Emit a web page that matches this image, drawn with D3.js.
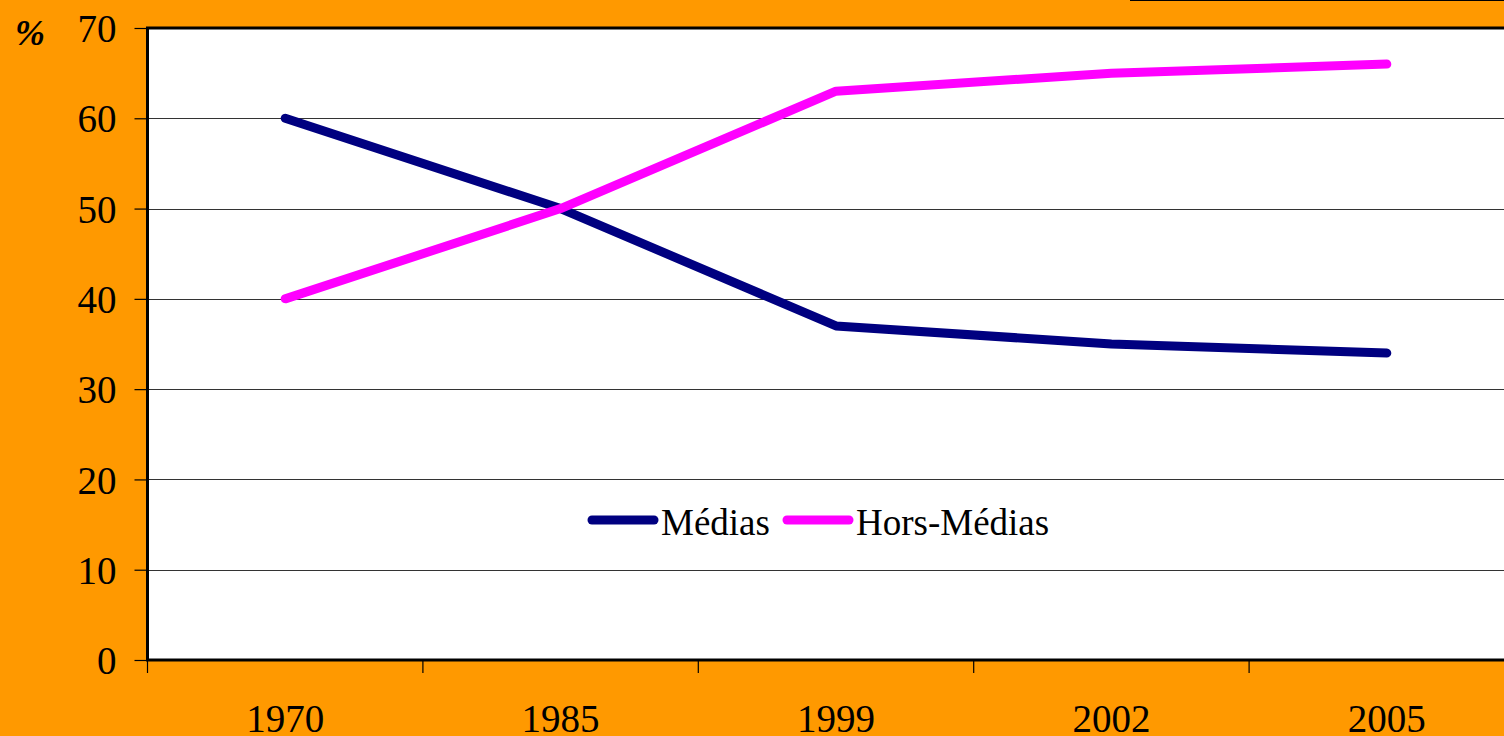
<!DOCTYPE html>
<html>
<head>
<meta charset="utf-8">
<script src="https://cdn.jsdelivr.net/npm/d3@7"></script>
<style>
  body { margin: 0; background: #FF9900; }
  svg { display: block; }
  svg text { font-family: "Liberation Serif", "Times New Roman", Tinos, "DejaVu Serif", serif; }
</style>
</head>
<body>
<svg id="chart" width="1504" height="736"></svg>
<script>
const years = ['1970', '1985', '1999', '2002', '2005'];
const medias = [60, 50, 37, 35, 34];
const horsMedias = [40, 50, 63, 65, 66];
const yTicks = [0, 10, 20, 30, 40, 50, 60, 70];

const series = [
  { name: 'Médias', values: medias, color: '#000080' },
  { name: 'Hors-Médias', values: horsMedias, color: '#FF00FF' },
];

const svg = d3.select('#chart');

const plotLeft = 147.5, plotTop = 28, plotBottom = 660;
const band = 275.4;
const plotRight = plotLeft + band * years.length;

const x = d3.scaleBand().domain(years).range([plotLeft, plotRight]);
const y = d3.scaleLinear().domain([0, 70]).range([plotBottom, plotTop]);

svg.append('rect')
  .attr('width', 1504).attr('height', 736)
  .attr('fill', '#FF9900');

// plot area
svg.append('rect')
  .attr('x', plotLeft).attr('y', plotTop)
  .attr('width', plotRight - plotLeft).attr('height', plotBottom - plotTop)
  .attr('fill', '#fff');

// thin line at the top edge
svg.append('line')
  .attr('x1', 1130).attr('x2', 1504)
  .attr('y1', 0.5).attr('y2', 0.5)
  .attr('stroke', '#000').attr('stroke-width', 1.2);

// gridlines
svg.append('g')
  .selectAll('line')
  .data(yTicks.filter(d => d > 0 && d < 70))
  .join('line')
  .attr('x1', plotLeft).attr('x2', plotRight)
  .attr('y1', d => Math.round(y(d)) + 0.5).attr('y2', d => Math.round(y(d)) + 0.5)
  .attr('stroke', '#333').attr('stroke-width', 1);

// y axis
const yAxis = svg.append('g')
  .attr('transform', `translate(${plotLeft},0)`)
  .call(d3.axisLeft(y).tickValues(yTicks).tickSize(13).tickPadding(18));
yAxis.attr('font-family', null);
yAxis.select('.domain').remove();
yAxis.selectAll('.tick line').attr('stroke', '#000').attr('stroke-width', 1.2);
yAxis.selectAll('.tick text')
  .attr('font-size', 39).attr('fill', '#000')
  .attr('dy', '0.35em');

// x axis ticks at band boundaries
const xBounds = years.map(d => x(d)).concat([plotRight]);
svg.append('g')
  .selectAll('line')
  .data(xBounds)
  .join('line')
  .attr('x1', d => d).attr('x2', d => d)
  .attr('y1', plotBottom).attr('y2', plotBottom + 13)
  .attr('stroke', '#000').attr('stroke-width', 1.2);

svg.append('g')
  .selectAll('text')
  .data(years)
  .join('text')
  .attr('x', d => x(d) + x.bandwidth() / 2)
  .attr('y', 732)
  .attr('text-anchor', 'middle')
  .attr('font-size', 39)
  .text(d => d);

// plot border
svg.append('rect')
  .attr('x', plotLeft).attr('y', plotTop)
  .attr('width', plotRight - plotLeft).attr('height', plotBottom - plotTop)
  .attr('fill', 'none').attr('stroke', '#000').attr('stroke-width', 3);

// % label
svg.append('text')
  .attr('x', 30).attr('y', 45)
  .attr('text-anchor', 'middle')
  .attr('font-size', 36)
  .attr('font-weight', 'bold').attr('font-style', 'italic')
  .text('%');

// lines
const line = d3.line()
  .x((d, i) => x(years[i]) + x.bandwidth() / 2)
  .y(d => y(d));

svg.append('g')
  .selectAll('path')
  .data(series)
  .join('path')
  .attr('d', d => line(d.values))
  .attr('fill', 'none')
  .attr('stroke', d => d.color)
  .attr('stroke-width', 9)
  .attr('stroke-linecap', 'round')
  .attr('stroke-linejoin', 'round');

// legend
const legendX = [592, 787];
const legend = svg.append('g')
  .selectAll('g')
  .data(series)
  .join('g')
  .attr('transform', (d, i) => `translate(${legendX[i]},520)`);
legend.append('line')
  .attr('x1', 0).attr('x2', 62)
  .attr('stroke', d => d.color).attr('stroke-width', 9)
  .attr('stroke-linecap', 'round');
legend.append('text')
  .attr('x', 69).attr('y', 15)
  .attr('font-size', 37)
  .text(d => d.name);
</script>
</body>
</html>
